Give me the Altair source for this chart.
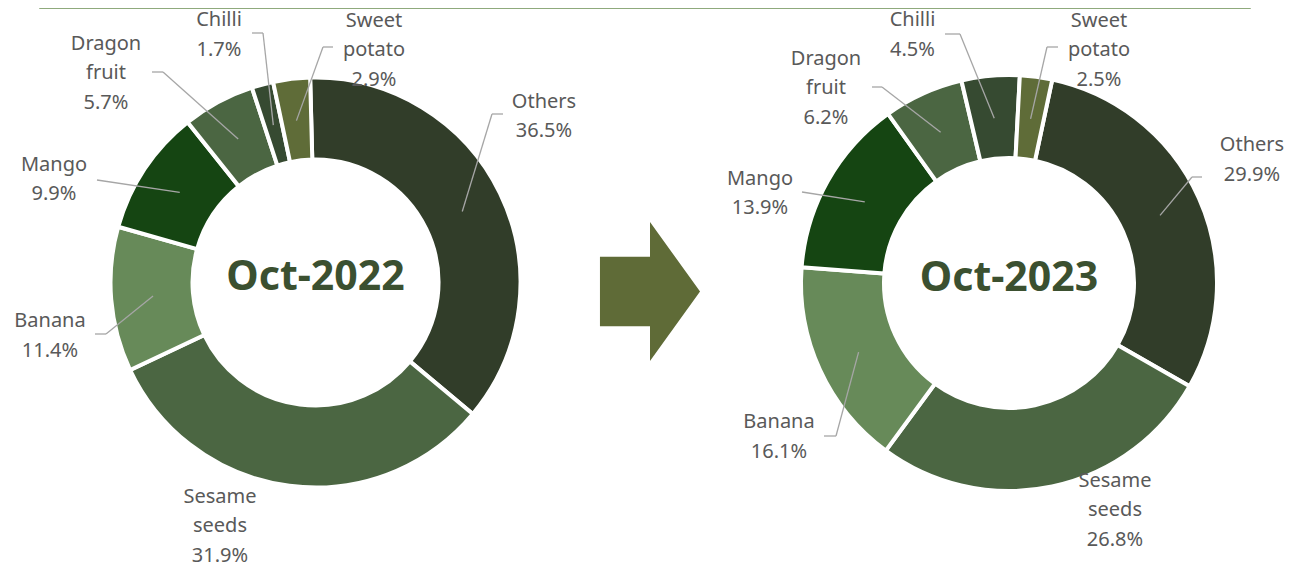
import math
import altair as alt
import pandas as pd

# ---------------- data ----------------
categories = ["Others", "Sesame seeds", "Banana", "Mango", "Dragon fruit", "Chilli", "Sweet potato"]
share_2022 = [36.5, 31.9, 11.4, 9.9, 5.7, 1.7, 2.9]
share_2023 = [29.9, 26.8, 16.1, 13.9, 6.2, 4.5, 2.5]
period_titles = ["Oct-2022", "Oct-2023"]
label_lines = {
    "Others": ["Others"],
    "Sesame seeds": ["Sesame", "seeds"],
    "Banana": ["Banana"],
    "Mango": ["Mango"],
    "Dragon fruit": ["Dragon", "fruit"],
    "Chilli": ["Chilli"],
    "Sweet potato": ["Sweet", "potato"],
}

# ---------------- styles / layout ----------------
slice_colors = {
    "Others": "#313d29",
    "Sesame seeds": "#4b6642",
    "Banana": "#678a59",
    "Mango": "#154512",
    "Dragon fruit": "#4b6642",
    "Chilli": "#364a31",
    "Sweet potato": "#5f6c38",
}
W, H = 1280, 562
LABEL_COLOR = "#595959"
LEADER_COLOR = "#a6a6a6"
TITLE_COLOR = "#3b5030"
FONT = "Noto Sans"
LH = 29.5

donuts = [
    dict(values=share_2022, title=period_titles[0], cx=307.5, cy=274.5, ro=205, ri=123, start=-1.5),
    dict(values=share_2023, title=period_titles[1], cx=1001.0, cy=275.0, ro=208, ri=125, start=12.0),
]

# label block centre offsets and leader (bend, end) offsets, relative to donut centre
label_layout = [
    {
        "Others": ((228.5, -166), (176.5, -168.5), (187.5, -168.5)),
        "Sesame seeds": ((-95.5, 243.5), None, None),
        "Banana": ((-265.5, 53.5), (-209.5, 51.5), (-220.5, 51.5)),
        "Mango": ((-261.5, -103), (-218.5, -102.5), (-218.5, -102.5)),
        "Dragon fruit": ((-209.5, -209.5), (-152.5, -210.5), (-163.5, -210.5)),
        "Chilli": ((-96.5, -247.5), (-52.5, -249.5), (-63.5, -249.5)),
        "Sweet potato": ((58.5, -232.5), (7.5, -235.5), (17.5, -235.5)),
    },
    {
        "Others": ((243, -123), (183, -106), (193, -106)),
        "Sesame seeds": ((106, 227), None, None),
        "Banana": ((-230, 154), (-173, 153), (-185, 153)),
        "Mango": ((-249, -89.5), (-207, -91), (-207, -91)),
        "Dragon fruit": ((-183, -195), (-127, -196), (-137, -196)),
        "Chilli": ((-96.5, -248), (-49, -249), (-64, -249)),
        "Sweet potato": ((90, -233), (38, -236), (49, -236)),
    },
]

layers = []
text_rows = []
rule_rows = []
title_rows = []

for d, lay in zip(donuts, label_layout):
    vals = d["values"]
    total = sum(vals)
    df = pd.DataFrame({
        "cat": categories,
        "value": vals,
        "idx": list(range(len(categories))),
        "color": [slice_colors[c] for c in categories],
    })
    s = math.radians(d["start"])
    arc = alt.Chart(df).mark_arc(
        stroke="white", strokeWidth=4, radius=d["ro"], radius2=d["ri"]
    ).encode(
        theta=alt.Theta("value:Q", stack=True, scale=alt.Scale(range=[s, s + 2 * math.pi])),
        order=alt.Order("idx:Q", sort="ascending"),
        color=alt.Color("color:N", scale=None, legend=None),
        x=alt.value(d["cx"]),
        y=alt.value(d["cy"]),
    )
    layers.append(arc)

    # labels and leader lines
    cum = 0.0
    r_mid = (d["ro"] - 2 + d["ri"]) / 2
    for c, v in zip(categories, vals):
        mid = d["start"] + 360.0 * (cum + v / 2) / total
        cum += v
        (ldx, ldy), bend, end = lay[c]
        lines = label_lines[c] + [f"{v:.1f}%"]
        n = len(lines)
        for i, t in enumerate(lines):
            text_rows.append({
                "x": d["cx"] + ldx,
                "y": d["cy"] + ldy + (i - (n - 1) / 2) * LH,
                "t": t,
            })
        if bend is not None:
            a = math.radians(mid)
            sx = d["cx"] + r_mid * math.sin(a)
            sy = d["cy"] - r_mid * math.cos(a)
            bx, by = d["cx"] + bend[0], d["cy"] + bend[1]
            ex, ey = d["cx"] + end[0], d["cy"] + end[1]
            rule_rows.append({"x": sx, "y": sy, "x2": bx, "y2": by})
            if (bx, by) != (ex, ey):
                rule_rows.append({"x": bx, "y": by, "x2": ex, "y2": ey})
    title_rows.append({"x": d["cx"], "y": d["cy"] - 4.5, "t": d["title"]})

leaders = alt.Chart(pd.DataFrame(rule_rows)).mark_rule(
    color=LEADER_COLOR, strokeWidth=1.3
).encode(
    x=alt.X("x:Q", scale=None, axis=None),
    y=alt.Y("y:Q", scale=None, axis=None),
    x2="x2:Q",
    y2="y2:Q",
)

labels = alt.Chart(pd.DataFrame(text_rows)).mark_text(
    font=FONT, fontSize=20, color=LABEL_COLOR, align="center", baseline="middle"
).encode(
    x=alt.X("x:Q", scale=None, axis=None),
    y=alt.Y("y:Q", scale=None, axis=None),
    text="t:N",
)

titles = alt.Chart(pd.DataFrame(title_rows)).mark_text(
    font=FONT, fontSize=41, fontWeight="bold", color=TITLE_COLOR, align="center", baseline="middle"
).encode(
    x=alt.X("x:Q", scale=None, axis=None),
    y=alt.Y("y:Q", scale=None, axis=None),
    text="t:N",
)

ARROW_PATH = "M -0.72 -0.5 L 0 -0.5 L 0 -1 L 0.72 0 L 0 1 L 0 0.5 L -0.72 0.5 Z"
arrow = alt.Chart(pd.DataFrame({"a": [0]})).mark_point(
    shape=ARROW_PATH, size=139 ** 2, filled=True, color="#5f6b37", opacity=1, strokeWidth=0
).encode(x=alt.value(642), y=alt.value(283.5))

top_line = alt.Chart(pd.DataFrame({"a": [0]})).mark_rule(
    color="#8faa7c", strokeWidth=2, strokeCap="round"
).encode(x=alt.value(32), x2=alt.value(1242), y=alt.value(0))

chart = alt.layer(top_line, *layers, leaders, labels, titles, arrow).resolve_scale(
    theta="independent"
).properties(
    width=W, height=H, padding=0, autosize="none"
).configure_view(strokeWidth=0)

chart.save("out.html", embed_options={"renderer": "svg", "actions": False})
